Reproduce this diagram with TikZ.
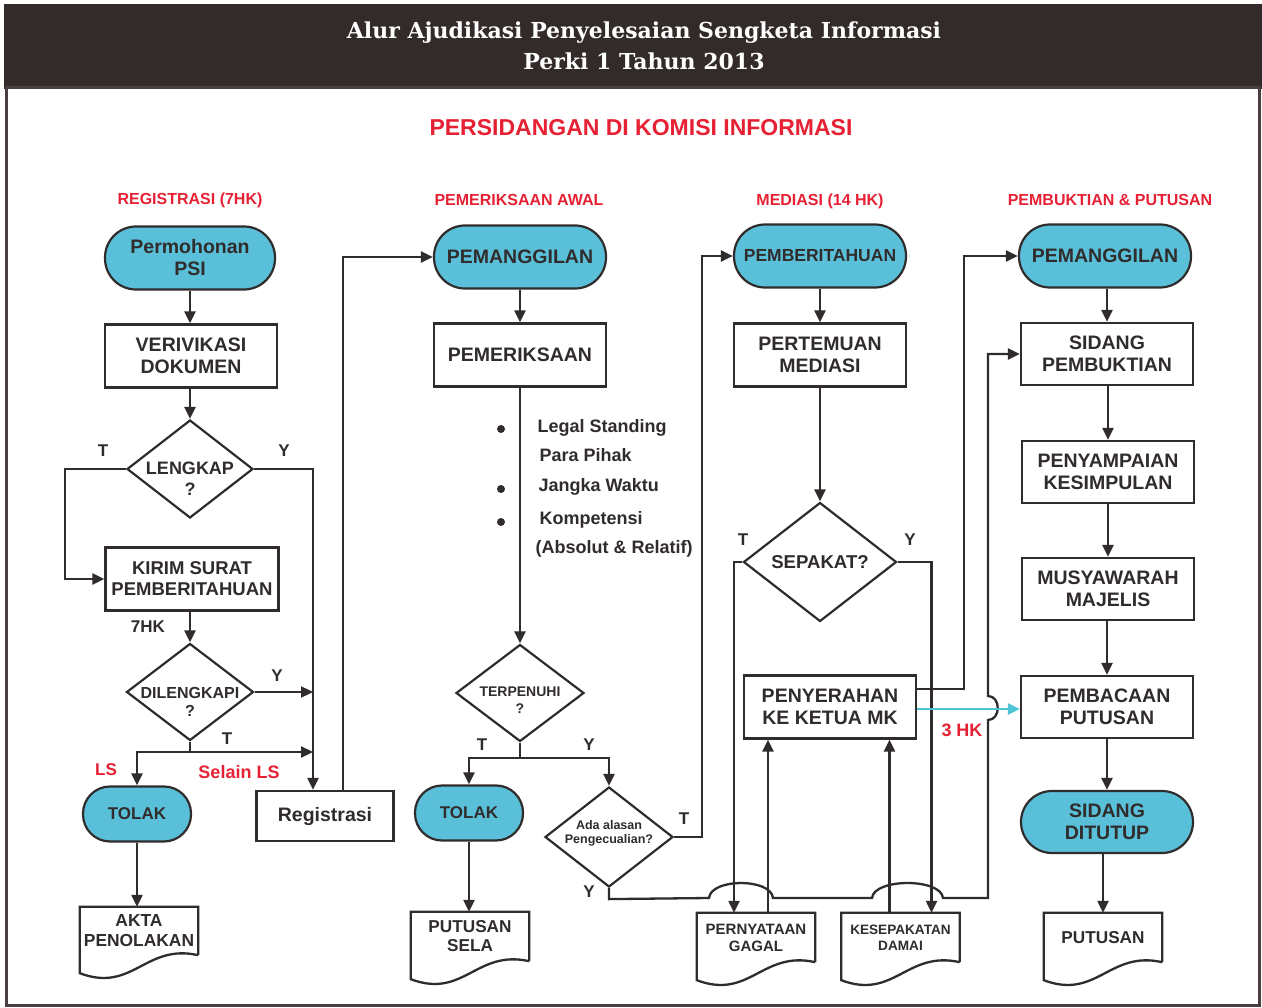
\documentclass[tikz,border=0pt]{standalone}
\usepackage{graphicx}
\usepackage{fontspec}
\setmainfont{Liberation Serif}
\setsansfont{Liberation Sans}
\newfontfamily\ttlfont{DejaVu Serif}
\usetikzlibrary{shapes.geometric,arrows.meta,calc}
\definecolor{lnc}{RGB}{48,44,43}
\definecolor{hdr}{RGB}{51,43,41}
\definecolor{cyf}{RGB}{90,192,218}
\definecolor{cyl}{RGB}{78,196,216}
\definecolor{rdc}{RGB}{230,33,52}
\newcommand\myfs[2]{\fontsize{#1}{#2}\selectfont}
\newcommand\mydoc[1]{\draw[wire] (#1.south east) -- (#1.north east) -- (#1.north west) -- ($(#1.south west)+(0,18)$) .. controls ($(#1.south west)+(53,38)$) and ($(#1.south east)+(-53,-12)$) .. (#1.south east);}
\begin{document}
\begin{tikzpicture}[x=1pt,y=-1pt,
  lab/.style={font=\sffamily\bfseries\myfs{19.5}{22}, text=lnc, align=center},
  term/.style={lab, draw=lnc, line width=2.2pt, fill=cyf, rounded corners=31pt, minimum width=172pt, minimum height=63pt, inner sep=0pt},
  proc/.style={lab, draw=lnc, line width=2.2pt, minimum width=172pt, minimum height=63pt, inner sep=0pt},
  dec/.style={diamond, draw=lnc, line width=2.2pt, inner sep=0pt},
  docn/.style={lab, minimum width=118pt, minimum height=49pt, inner sep=0pt},
  wire/.style={draw=lnc, line width=2.3pt},
  arr/.style={wire, -{Triangle[length=12pt,width=11pt]}},
  yn/.style={font=\sffamily\bfseries\myfs{17}{20}, text=lnc},
  hd/.style={font=\sffamily\bfseries\myfs{16}{19}, text=rdc},
  bul/.style={font=\sffamily\bfseries\myfs{18}{20}, text=lnc, anchor=west},
  ttl/.style={text=white, font=\ttlfont\bfseries\myfs{22}{26}}]
\useasboundingbox (0,0) rectangle (1262,1008);
\fill[white] (0,0) rectangle (1262,1008);
\fill[hdr] (4,4) rectangle (1262,89);
\draw[hdr!90, line width=3pt] (6,88) rectangle (1259,1005);
% titles
\node[ttl] (t1) at (644,33) {Alur Ajudikasi Penyelesaian Sengketa Informasi};
\node[ttl] (t2) at (644,61) {Perki 1 Tahun 2013};
\node[hd, font=\sffamily\bfseries\myfs{23}{26}] (h0) at (641,128) {PERSIDANGAN DI KOMISI INFORMASI};
\node[hd] (h1) at (190,200) {REGISTRASI (7HK)};
\node[hd] (h2) at (519,200) {PEMERIKSAAN AWAL};
\node[hd] (h3) at (820,201) {MEDIASI (14 HK)};
\node[hd] (h4) at (1110,200) {PEMBUKTIAN \& PUTUSAN};
% ---------- registrasi
\node[term, minimum width=170pt] (psi) at (190,258) {Permohonan\\PSI};
\node[proc] (ver) at (191,356) {VERIVIKASI\\DOKUMEN};
\node[dec, minimum width=126pt, minimum height=98pt,
  label={[lab, font=\sffamily\bfseries\myfs{18}{21}, yshift=-10pt]center:LENGKAP\\?}] (lkp) at (190,469) {};
\node[proc, minimum width=173pt, font=\sffamily\bfseries\myfs{18.5}{21}] (kir) at (192,579) {KIRIM SURAT\\PEMBERITAHUAN};
\node[dec, minimum width=127pt, minimum height=97pt,
  label={[lab, font=\sffamily\bfseries\myfs{16}{18}, yshift=-10pt]center:DILENGKAPI\\?}] (dil) at (190,692) {};
\node[term, minimum width=108pt, minimum height=55pt, rounded corners=27pt, font=\sffamily\bfseries\myfs{17}{20}] (tol1) at (137,814) {TOLAK};
\node[docn, font=\sffamily\bfseries\myfs{17.4}{20}, minimum height=48pt] (akta) at (139,931) {AKTA\\PENOLAKAN};
\node[proc, minimum width=137pt, minimum height=50pt] (reg) at (325,816) {Registrasi};
\coordinate (xL) at (313,469);
\coordinate (dj) at (190,752);
% ---------- pemeriksaan awal
\node[term] (pg1) at (520,257) {PEMANGGILAN};
\node[proc] (pmr) at (520,355) {PEMERIKSAAN};
\node[dec, minimum width=128pt, minimum height=97pt,
  label={[lab, font=\sffamily\bfseries\myfs{14}{17}, yshift=-7pt]center:TERPENUHI\\?}] (terp) at (520,693) {};
\node[term, minimum width=108pt, minimum height=55pt, rounded corners=27pt, font=\sffamily\bfseries\myfs{17}{20}] (tol2) at (469,813) {TOLAK};
\node[docn, font=\sffamily\bfseries\myfs{17.2}{19}] (psela) at (470,936.5) {PUTUSAN\\SELA};
\node[dec, minimum width=128pt, minimum height=100pt,
  label={[lab, font=\sffamily\bfseries\myfs{12.5}{14}, yshift=4pt]center:Ada alasan\\Pengecualian?}] (ada) at (609,837) {};
\coordinate (tj) at (520,758);
\fill[lnc] (501,429) circle (4pt);
\fill[lnc] (501,489) circle (4pt);
\fill[lnc] (501,522) circle (4pt);
\node[bul] (b1) at (534,428) {Legal Standing};
\node[bul] (b2) at (536,455) {Para Pihak};
\node[bul] (b3) at (535,487) {Jangka Waktu};
\node[bul] (b4) at (536,520) {Kompetensi};
\node[bul] (b5) at (532,549) {(Absolut \& Relatif)};
% ---------- mediasi
\node[term, font=\sffamily\bfseries\myfs{17.5}{20}] (pbt) at (820,256) {PEMBERITAHUAN};
\node[proc] (ptm) at (820,355) {PERTEMUAN\\MEDIASI};
\node[dec, minimum width=153pt, minimum height=119pt,
  label={[lab, font=\sffamily\bfseries\myfs{18.6}{21}]center:SEPAKAT?}] (sep) at (820,562) {};
\node[proc] (pny) at (830,707) {PENYERAHAN\\KE KETUA MK};
\node[docn, font=\sffamily\bfseries\myfs{15}{17}] (gagal) at (756,937.5) {PERNYATAAN\\GAGAL};
\node[docn, font=\sffamily\bfseries\myfs{13.6}{16}] (damai) at (900.5,937.5) {KESEPAKATAN\\DAMAI};
% ---------- pembuktian & putusan
\node[term] (pg2) at (1105,256) {PEMANGGILAN};
\node[proc, minimum height=62pt] (sdp) at (1107,354) {SIDANG\\PEMBUKTIAN};
\node[proc, minimum height=62pt] (pnk) at (1108,472) {PENYAMPAIAN\\KESIMPULAN};
\node[proc, minimum height=62pt] (mus) at (1108,589) {MUSYAWARAH\\MAJELIS};
\node[proc, minimum height=62pt] (pbc) at (1107,707) {PEMBACAAN\\PUTUSAN};
\node[term, minimum height=62pt] (tup) at (1107,822) {SIDANG\\DITUTUP};
\node[docn, font=\sffamily\bfseries\myfs{17.2}{19}] (put) at (1103,937.5) {PUTUSAN};
\mydoc{akta}
\mydoc{psela}
\mydoc{gagal}
\mydoc{damai}
\mydoc{put}
% ---------- connectors: registrasi
\draw[arr] (psi) -- (ver.north -| psi);
\draw[arr] (ver.south -| lkp.north) -- (lkp.north);
\draw[arr] (lkp.west) -- ++(-61,0) |- (kir.west);
\draw[arr] (lkp.east) -| ([xshift=-12pt]reg.north);
\draw[arr] (kir.south -| dil.north) -- (dil.north);
\draw[arr] (dil.east) -- (dil.east -| xL);
\draw[wire] (dil.south) -- (dj);
\draw[arr] (dj) -- (dj -| xL);
\draw[arr] (dj) -| (tol1.north);
\draw[arr] (tol1.south) -- (tol1.south |- akta.north);
\draw[arr] ([xshift=18pt]reg.north) |- (pg1.west);
% ---------- connectors: pemeriksaan
\draw[arr] (pg1) -- (pmr);
\draw[arr] (pmr) -- (terp.north);
\draw[wire] (terp.south) -- (tj);
\draw[arr] (tj) -| (tol2.north);
\draw[arr] (tj) -| (ada.north);
\draw[arr] (tol2.south) -- (tol2.south |- psela.north);
\draw[arr] (ada.east) -- ++(28,0) |- (pbt.west);
\draw[arr] (ada.south) -- ++(0,11) -- (709,898) .. controls (711,878) and (771,878) .. (773,898) -- (872,898) .. controls (874,878) and (941,878) .. (943,898) -- (988,898) -- (988,720) .. controls (1001,720) and (1001,696) .. (988,696) |- (sdp.west);
% ---------- connectors: mediasi
\draw[arr] (pbt) -- (ptm);
\draw[arr] (ptm) -- (sep.north);
\draw[arr] (sep.west) -| ([xshift=-22pt]gagal.north);
\draw[arr] (sep.east) -| ([xshift=31pt]damai.north);
\draw[arr] ([xshift=12pt]gagal.north) -- ([xshift=12pt]gagal.north |- pny.south);
\draw[arr] ([xshift=-11pt]damai.north) -- ([xshift=-11pt]damai.north |- pny.south);
\draw[arr] ([yshift=18pt]pny.east) -- ++(47,0) |- (pg2.west);
\draw[arr, draw=cyl, -{Triangle[length=12pt,width=11pt,fill=cyl]}] ([yshift=-2pt]pny.east) -- ([yshift=-2pt]pny.east -| pbc.west);
% ---------- connectors: pembuktian
\draw[arr] (pg2.south -| sdp.north) -- (sdp.north);
\draw[arr] (sdp.south -| pnk.north) -- (pnk.north);
\draw[arr] (pnk.south -| mus.north) -- (mus.north);
\draw[arr] (mus.south -| pbc.north) -- (pbc.north);
\draw[arr] (pbc) -- (tup);
\draw[arr] (tup.south -| put.north) -- (put.north);
% ---------- labels
\node[yn] (l1) at (103,451) {T};
\node[yn] (l2) at (284,451) {Y};
\node[yn] (l3) at (148,627) {7HK};
\node[yn] (l4) at (277,676) {Y};
\node[yn] (l5) at (227,739) {T};
\node[hd, font=\sffamily\bfseries\myfs{17}{20}] (l6) at (106,770) {LS};
\node[hd, font=\sffamily\bfseries\myfs{18}{20}] (l7) at (239,772) {Selain LS};
\node[yn] (l8) at (482,745) {T};
\node[yn] (l9) at (589,745) {Y};
\node[yn] (l10) at (684,819) {T};
\node[yn] (l11) at (589,892) {Y};
\node[yn] (l12) at (743,540) {T};
\node[yn] (l13) at (910,540) {Y};
\node[hd, font=\sffamily\bfseries\myfs{18}{20}] (l14) at (962,730) {3 HK};
\end{tikzpicture}
\end{document}
